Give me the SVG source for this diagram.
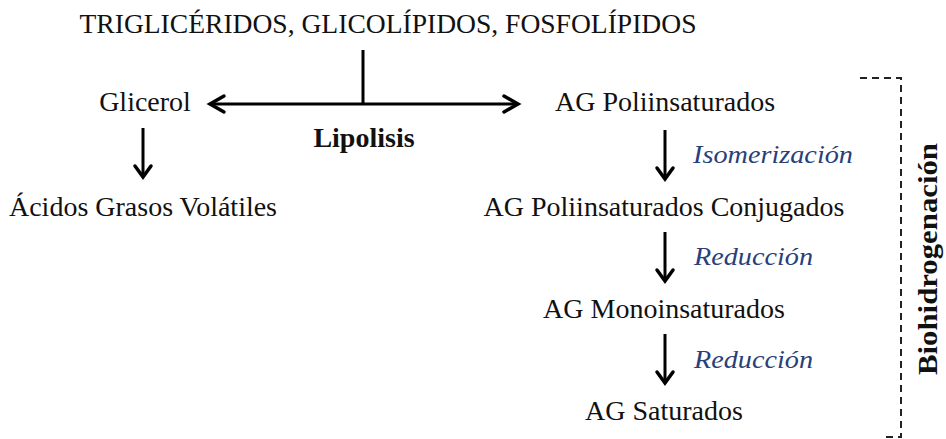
<svg xmlns="http://www.w3.org/2000/svg" width="946" height="439" viewBox="0 0 946 439">
<style>
.t{font-family:"Liberation Serif","Times New Roman",serif;font-size:28px;fill:#111}
.b{font-weight:bold}
.lab{font-family:"Liberation Serif","Times New Roman",serif;font-size:26px;font-style:italic;fill:#2a3f7a}
.ln{stroke:#000;stroke-width:3;fill:none}
.hd{stroke:#000;stroke-width:3.5;fill:none;stroke-linecap:round;stroke-linejoin:miter}
.dash{stroke:#222;stroke-width:2;fill:none;stroke-dasharray:7,5}
</style>
<rect width="946" height="439" fill="#fff"/>
<g id="title"><text class="t" x="388" y="33" text-anchor="middle" textLength="617" lengthAdjust="spacingAndGlyphs">TRIGLICÉRIDOS, GLICOLÍPIDOS, FOSFOLÍPIDOS</text></g>
<g id="glicerol"><text class="t" x="145" y="111" text-anchor="middle">Glicerol</text></g>
<g id="agv"><text class="t" x="143" y="216" text-anchor="middle">Ácidos Grasos Volátiles</text></g>
<g id="lipolisis"><text class="t b" x="364" y="147" text-anchor="middle" font-size="31">Lipolisis</text></g>
<g id="agpi"><text class="t" x="665" y="111" text-anchor="middle">AG Poliinsaturados</text></g>
<g id="agpic"><text class="t" x="664" y="216" text-anchor="middle">AG Poliinsaturados Conjugados</text></g>
<g id="agmi"><text class="t" x="664" y="318" text-anchor="middle">AG Monoinsaturados</text></g>
<g id="ags"><text class="t" x="664" y="420" text-anchor="middle">AG Saturados</text></g>
<g id="bio"><text class="t b" transform="translate(937,259) rotate(-90)" text-anchor="middle" font-size="27" textLength="232" lengthAdjust="spacingAndGlyphs">Biohidrogenación</text></g>
<g id="connectors">
<line class="ln" x1="363" y1="50" x2="363" y2="104"/>
<line class="ln" x1="210" y1="104" x2="518" y2="104"/>
<polyline class="hd" points="224,96 210,104 224,112"/>
<polyline class="hd" points="504,96 518,104 504,112"/>
<line class="ln" x1="143" y1="128" x2="143" y2="176"/>
<polyline class="hd" points="135,166 143,177 151,166"/>
<line class="ln" x1="665" y1="130" x2="665" y2="178"/>
<polyline class="hd" points="657,168 665,179 673,168"/>
<line class="ln" x1="665" y1="232" x2="665" y2="280"/>
<polyline class="hd" points="657,270 665,281 673,270"/>
<line class="ln" x1="665" y1="334" x2="665" y2="382"/>
<polyline class="hd" points="657,372 665,383 673,372"/>
<text class="lab" x="693" y="163" textLength="160" lengthAdjust="spacingAndGlyphs">Isomerización</text>
<text class="lab" x="694" y="265" textLength="119" lengthAdjust="spacingAndGlyphs">Reducción</text>
<text class="lab" x="694" y="368" textLength="119" lengthAdjust="spacingAndGlyphs">Reducción</text>
<polyline class="dash" points="860,78 901,78 901,437 882,437"/>
</g>
</svg>
